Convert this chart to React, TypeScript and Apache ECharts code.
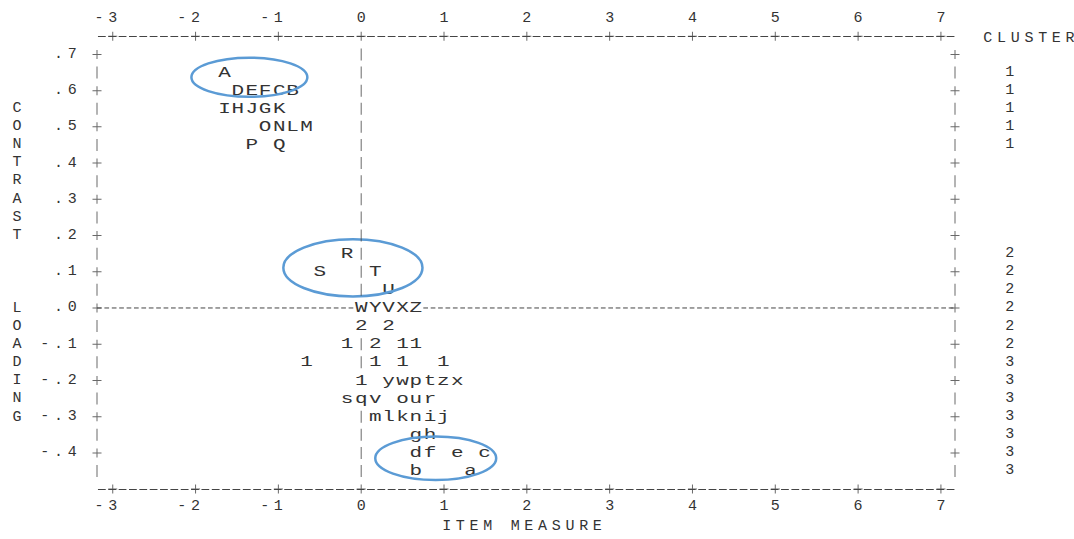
import React, { useEffect, useRef } from 'react';
import * as echarts from 'echarts';

// ---- axis ticks ----
const xTicks = [-3, -2, -1, 0, 1, 2, 3, 4, 5, 6, 7];
const yTicks = [0.7, 0.6, 0.5, 0.4, 0.3, 0.2, 0.1, 0, -0.1, -0.2, -0.3, -0.4];
const yHalfRows = [0.65, 0.55, 0.45, 0.35, 0.25, 0.15, 0.05, -0.05, -0.15, -0.25, -0.35, -0.45];
const X_MIN = -3.19;
const X_MAX = 7.17;
const Y_MIN = -0.5;
const Y_MAX = 0.75;

// ---- plotted items (label, item measure, contrast loading) ----
const itemLabels = [
  'A', 'D', 'E', 'F', 'C', 'B', 'I', 'H', 'J', 'G', 'K', 'O', 'N', 'L', 'M', 'P', 'Q',
  'R', 'S', 'T', 'U', 'W', 'Y', 'V', 'X', 'Z', '2', '2', '1', '2', '1', '1',
  '1', '1', '1', '1', '1', 'y', 'w', 'p', 't', 'z', 'x', 's', 'q', 'v', 'o', 'u', 'r',
  'm', 'l', 'k', 'n', 'i', 'j', 'g', 'h', 'd', 'f', 'e', 'c', 'b', 'a',
];
const itemMeasures = [
  -1.65, -1.49, -1.32, -1.16, -0.99, -0.83, -1.65, -1.49, -1.32, -1.16, -0.99, -1.16, -0.99, -0.83, -0.66, -1.32, -0.99,
  -0.17, -0.5, 0.17, 0.33, 0, 0.17, 0.33, 0.5, 0.66, 0, 0.33, -0.17, 0.17, 0.5, 0.66,
  -0.66, 0.17, 0.5, 0.99, 0, 0.33, 0.5, 0.66, 0.83, 0.99, 1.16, -0.17, 0, 0.17, 0.5, 0.66, 0.83,
  0.17, 0.33, 0.5, 0.66, 0.83, 0.99, 0.66, 0.83, 0.66, 0.83, 1.16, 1.49, 0.66, 1.32,
];
const itemLoadings = [
  0.65, 0.6, 0.6, 0.6, 0.6, 0.6, 0.55, 0.55, 0.55, 0.55, 0.55, 0.5, 0.5, 0.5, 0.5, 0.45, 0.45,
  0.15, 0.1, 0.1, 0.05, 0, 0, 0, 0, 0, -0.05, -0.05, -0.1, -0.1, -0.1, -0.1,
  -0.15, -0.15, -0.15, -0.15, -0.2, -0.2, -0.2, -0.2, -0.2, -0.2, -0.2, -0.25, -0.25, -0.25, -0.25, -0.25, -0.25,
  -0.3, -0.3, -0.3, -0.3, -0.3, -0.3, -0.35, -0.35, -0.4, -0.4, -0.4, -0.4, -0.45, -0.45,
];

// ---- cluster column ----
const clusterRows = [0.65, 0.6, 0.55, 0.5, 0.45, 0.15, 0.1, 0.05, 0, -0.05, -0.1, -0.15, -0.2, -0.25, -0.3, -0.35, -0.4, -0.45];
const clusterIds = ['1', '1', '1', '1', '1', '2', '2', '2', '2', '2', '2', '3', '3', '3', '3', '3', '3', '3'];

// ---- annotation ellipses (data units) ----
const ellipseCenterX = [-1.35, -0.1, 0.9];
const ellipseCenterY = [0.637, 0.111, -0.415];
const ellipseRadiusX = [0.7, 0.84, 0.73];
const ellipseRadiusY = [0.054, 0.079, 0.06];

const FONT = "'Liberation Mono', 'Courier New', monospace";
const TEXT = '#333';
const LINE = '#444';
const FS = 15;
const CELL = 13.7;
const ROW = 18.16;
const STRETCH = 1.4;

const cells = (s: string) => s.split('').map((ch) => `{c|${ch}}`).join('');
const rich = { c: { width: CELL, align: 'center', fontFamily: FONT, fontSize: FS, fontWeight: 'normal', color: TEXT } };

const fmtY = (v: number) => {
  const r = Math.round(v * 10);
  if (r === 0) return '.0';
  return (r < 0 ? '-' : '') + '.' + Math.abs(r);
};

const near = (a: number, b: number) => Math.abs(a - b) < 1e-6;

export default function App() {
  const ref = useRef<HTMLDivElement>(null);
  useEffect(() => {
    document.body.style.margin = '0';
    if (!ref.current) return;
    const chart = echarts.init(ref.current, undefined, { renderer: 'svg' });

    const plusPts: number[][] = [];
    xTicks.forEach((t) => { plusPts.push([t, Y_MAX]); plusPts.push([t, Y_MIN]); });
    yTicks.forEach((y) => { plusPts.push([X_MIN, y]); plusPts.push([X_MAX, y]); });

    const barPts: number[][] = [];
    yHalfRows.forEach((y) => { barPts.push([X_MIN, y]); barPts.push([X_MAX, y]); });
    const allRows = [...yTicks, ...yHalfRows].filter((y) => y > -0.475);
    allRows.forEach((y) => {
      const occupied = itemLabels.some((_, i) => near(itemMeasures[i], 0) && near(itemLoadings[i], y));
      if (!occupied) barPts.push([0, y]);
    });

    const zeroRowX = itemMeasures.filter((_, i) => near(itemLoadings[i], 0));
    const zeroLeft = Math.min(...zeroRowX) - 0.09;
    const zeroRight = Math.max(...zeroRowX) + 0.09;

    const xAxisBase = {
      type: 'value',
      min: X_MIN,
      max: X_MAX,
      axisLine: { show: true, onZero: false, lineStyle: { color: LINE, width: 1, type: [7, 3.35], dashOffset: 8.5 } },
      axisTick: { show: false },
      splitLine: { show: false },
      axisLabel: {
        customValues: xTicks,
        margin: 10,
        formatter: (v: number) => {
          const s = String(Math.round(v));
          return cells(s) + '{c| }'.repeat(s.length - 1);
        },
        rich,
      },
    };

    const zeroLine = {
      type: 'line',
      symbol: 'none',
      silent: true,
      clip: false,
      lineStyle: { color: LINE, width: 1, type: [4.7, 2.7] },
    };

    chart.setOption({
      animation: false,
      backgroundColor: '#fff',
      title: {
        text: cells('CLUSTER'),
        left: 976,
        top: 24,
        textStyle: { fontWeight: 'normal', rich: { c: { ...rich.c, lineHeight: 18 } } },
      },
      grid: { left: 97, right: 119, top: 36.3, bottom: 48.7, containLabel: false },
      xAxis: [
        {
          ...xAxisBase,
          position: 'bottom',
          name: cells('ITEM MEASURE'),
          nameLocation: 'middle',
          nameGap: 36,
          nameTextStyle: { rich, verticalAlign: 'middle', padding: [0, 8, 0, 0] },
        },
        { ...xAxisBase, position: 'top' },
      ],
      yAxis: [
        {
          type: 'value',
          position: 'left',
          min: Y_MIN,
          max: Y_MAX,
          axisLine: { show: false, onZero: false },
          axisTick: { show: false },
          splitLine: { show: false },
          axisLabel: { customValues: yTicks, margin: 18, align: 'right', formatter: (v: number) => cells(fmtY(v)), rich },
          name: ['C', 'O', 'N', 'T', 'R', 'A', 'S', 'T', ' ', ' ', ' ', 'L', 'O', 'A', 'D', 'I', 'N', 'G'].join('\n'),
          nameLocation: 'middle',
          nameRotate: 0,
          nameGap: 80,
          nameTextStyle: { align: 'center', verticalAlign: 'middle', lineHeight: ROW, fontFamily: FONT, fontSize: FS, color: TEXT },
        },
        {
          type: 'value',
          position: 'right',
          min: Y_MIN,
          max: Y_MAX,
          axisLine: { show: false, onZero: false },
          axisTick: { show: false },
          splitLine: { show: false },
          axisLabel: {
            customValues: clusterRows,
            margin: 48,
            align: 'left',
            formatter: (v: number) => {
              const i = clusterRows.findIndex((r) => near(r, v));
              return i >= 0 ? cells(clusterIds[i]) : '';
            },
            rich,
          },
        },
      ],
      series: [
        { ...zeroLine, data: [[X_MIN, 0], [zeroLeft, 0]] },
        { ...zeroLine, data: [[zeroRight, 0], [X_MAX, 0]] },
        {
          type: 'scatter',
          silent: true,
          clip: false,
          symbol: 'path://M0,4h9v1H0z M4,0h1v9H4z',
          symbolSize: 9,
          itemStyle: { color: LINE },
          data: plusPts,
        },
        {
          type: 'scatter',
          silent: true,
          clip: false,
          symbol: 'rect',
          symbolSize: [1, 12],
          itemStyle: { color: LINE },
          data: barPts,
        },
        {
          type: 'custom',
          silent: true,
          clip: false,
          encode: { x: 0, y: 1 },
          data: itemLabels.map((l, i) => ({ name: l, value: [itemMeasures[i], itemLoadings[i]] })),
          renderItem: (p: any, api: any) => {
            const c = api.coord([api.value(0), api.value(1)]);
            return {
              type: 'text',
              x: c[0],
              y: c[1],
              scaleX: STRETCH,
              style: {
                text: itemLabels[p.dataIndex],
                fontFamily: FONT,
                fontSize: FS,
                fill: TEXT,
                align: 'center',
                verticalAlign: 'middle',
              },
            };
          },
        },
        {
          type: 'custom',
          silent: true,
          clip: false,
          encode: { x: 0, y: 1 },
          data: ellipseCenterX.map((x, i) => [x, ellipseCenterY[i], ellipseRadiusX[i], ellipseRadiusY[i]]),
          renderItem: (_p: any, api: any) => {
            const c = api.coord([api.value(0), api.value(1)]);
            const s = api.size([api.value(2), api.value(3)]);
            return {
              type: 'ellipse',
              shape: { cx: c[0], cy: c[1], rx: s[0], ry: s[1] },
              style: { fill: 'none', stroke: '#5B9BD5', lineWidth: 2.5 },
            };
          },
        },
      ],
    });
    return () => chart.dispose();
  }, []);
  return <div ref={ref} style={{ width: 1074, height: 539 }} />;
}
